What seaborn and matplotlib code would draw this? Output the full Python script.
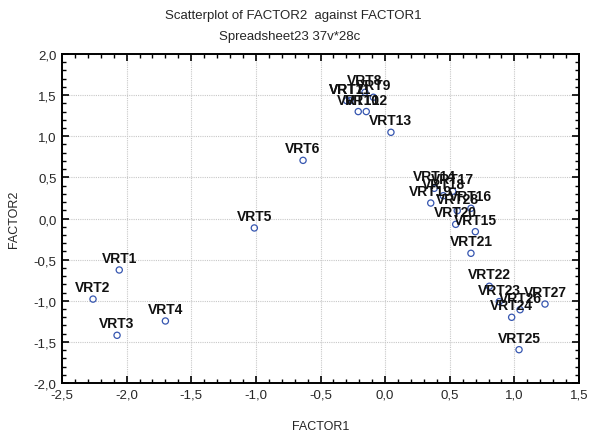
import matplotlib
matplotlib.use("Agg")
import matplotlib.pyplot as plt
from matplotlib.ticker import MultipleLocator, FuncFormatter
import seaborn as sns
import pandas as pd

# Factor scores for each variable
labels = ["VRT1", "VRT2", "VRT3", "VRT4", "VRT5", "VRT6", "VRT7", "VRT8", "VRT9",
          "VRT10", "VRT11", "VRT12", "VRT13", "VRT14", "VRT15", "VRT16", "VRT17",
          "VRT18", "VRT19", "VRT20", "VRT21", "VRT22", "VRT23", "VRT24", "VRT25",
          "VRT26", "VRT27", "VRT28"]
factor1 = [-2.057, -2.26, -2.074, -1.70, -1.012, -0.635, -0.297, -0.156, -0.091,
           -0.208, -0.272, -0.146, 0.045, 0.380, 0.698, 0.664, 0.523,
           0.450, 0.353, 0.546, 0.664, 0.806, 0.883, 0.979, 1.036,
           1.044, 1.237, 0.558]
factor2 = [-0.626, -0.98, -1.42, -1.246, -0.115, 0.707, 1.432, 1.534, 1.474,
           1.30, 1.432, 1.30, 1.048, 0.367, -0.160, 0.124, 0.331,
           0.277, 0.188, -0.071, -0.423, -0.824, -1.011, -1.201, -1.595,
           -1.109, -1.040, 0.095]

df = pd.DataFrame({"FACTOR1": factor1, "FACTOR2": factor2, "label": labels})

sns.set_style("white")
plt.rcParams["font.family"] = ["Liberation Sans", "DejaVu Sans"]

fig = plt.figure(figsize=(5.89, 4.39), dpi=100)
ax = fig.add_axes([62 / 589, 1 - 384 / 439, (579 - 62) / 589, (384 - 55) / 439])

point_color = "#3656b0"
sns.scatterplot(data=df, x="FACTOR1", y="FACTOR2", ax=ax, marker="o", s=20,
                facecolor="none", edgecolor=point_color, linewidth=0.9, zorder=3)

for lab, xv, yv in zip(labels, factor1, factor2):
    ax.annotate(lab, (xv, yv), xytext=(0, 5.8), textcoords="offset points",
                ha="center", va="baseline", fontsize=10, fontweight="bold",
                color="#111111", zorder=4)

ax.set_xlim(-2.5, 1.5)
ax.set_ylim(-2.0, 2.0)
ax.xaxis.set_major_locator(MultipleLocator(0.5))
ax.yaxis.set_major_locator(MultipleLocator(0.5))
ax.xaxis.set_minor_locator(MultipleLocator(0.1))
ax.yaxis.set_minor_locator(MultipleLocator(0.1))
comma = FuncFormatter(lambda v, pos: f"{v:.1f}".replace(".", ","))
ax.xaxis.set_major_formatter(comma)
ax.yaxis.set_major_formatter(comma)

ax.grid(True, which="major", color="#c8c8c8", linestyle=(0, (1, 1)), linewidth=0.8)
ax.set_axisbelow(True)

ax.tick_params(which="both", direction="in", top=True, right=True, bottom=True,
               left=True, color="black")
ax.tick_params(which="major", length=5, width=1.2, labelsize=9.5, pad=4)
ax.tick_params(which="minor", length=3, width=1.0)
for sp in ax.spines.values():
    sp.set_color("black")
    sp.set_linewidth(1.4)

ax.set_xlabel("FACTOR1", fontsize=9, labelpad=14)
ax.set_ylabel("FACTOR2", fontsize=9, labelpad=10)

fig.text(293 / 589, 1 - 16 / 439, "Scatterplot of FACTOR2  against FACTOR1",
         ha="center", va="center", fontsize=9.5)
fig.text(290 / 589, 1 - 37 / 439, "Spreadsheet23 37v*28c",
         ha="center", va="center", fontsize=9.5)

fig.savefig("out.png", dpi=100, facecolor="white")
